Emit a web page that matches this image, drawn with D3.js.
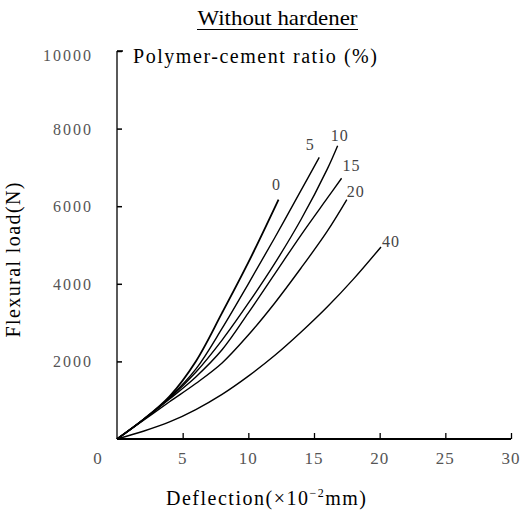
<!DOCTYPE html>
<html><head><meta charset="utf-8">
<script src="https://cdn.jsdelivr.net/npm/d3@7"></script>
<style>
html,body{margin:0;padding:0;background:#fff;}
svg{display:block;font-family:"Liberation Serif","Times New Roman",serif;}
</style></head>
<body>
<svg id="chart" width="530" height="512"></svg>
<script>
// ---- data ----
const seriesNames = ["0", "5", "10", "15", "20", "40"];
const deflection0  = [0, 2, 4, 6, 8, 10, 12.3];
const load0        = [0, 500, 1100, 2000, 3250, 4550, 6170];
const deflection5  = [0, 2, 4, 6, 8, 10, 12, 14, 15.4];
const load5        = [0, 500, 1070, 1800, 2850, 4000, 5180, 6400, 7260];
const deflection10 = [0, 2, 4, 6, 8, 10, 12, 14, 16, 16.8];
const load10       = [0, 500, 1050, 1720, 2550, 3500, 4520, 5650, 6950, 7560];
const deflection15 = [0, 2, 4, 6, 8, 10, 12, 14, 16, 17.1];
const load15       = [0, 495, 1030, 1600, 2300, 3250, 4250, 5250, 6200, 6720];
const deflection20 = [0, 2, 4, 6, 8, 10, 12, 14, 16, 17.5];
const load20       = [0, 480, 960, 1430, 1960, 2680, 3500, 4400, 5350, 6170];
const deflection40 = [0, 2, 4, 6, 8, 10, 12, 14, 16, 18, 20.1];
const load40       = [0, 200, 440, 760, 1150, 1620, 2150, 2750, 3400, 4120, 4950];
const xTicks = [0, 5, 10, 15, 20, 25, 30];
const yTicks = [2000, 4000, 6000, 8000, 10000];
const titleText = "Without hardener";
const legendTitle = "Polymer-cement ratio (%)";
const yAxisTitle = "Flexural load(N)";

const seriesX = [deflection0, deflection5, deflection10, deflection15, deflection20, deflection40];
const seriesY = [load0, load5, load10, load15, load20, load40];

// ---- drawing ----
const svg = d3.select("#chart");
const x = d3.scaleLinear().domain([0, 30]).range([117, 511]);
const y = d3.scaleLinear().domain([0, 10000]).range([439, 51]);

// title
svg.append("text").attr("x", 277.5).attr("y", 25).attr("text-anchor", "middle")
  .attr("font-size", 22).attr("textLength", 160).attr("lengthAdjust", "spacingAndGlyphs")
  .text(titleText);
svg.append("line").attr("x1", 197).attr("x2", 358).attr("y1", 29.5).attr("y2", 29.5)
  .attr("stroke", "#000").attr("stroke-width", 1);

// legend title
svg.append("text").attr("x", 133).attr("y", 63).attr("font-size", 20)
  .attr("textLength", 244).attr("lengthAdjust", "spacing")
  .text(legendTitle);

// y axis
const yAxis = d3.axisRight(y).tickValues(yTicks).tickSize(5).tickFormat("");
const gy = svg.append("g").attr("transform", `translate(${x(0)},0)`).call(yAxis);
gy.select(".domain").remove();
gy.selectAll(".tick line").attr("stroke", "#000").attr("stroke-width", 1.5);
svg.append("line").attr("x1", x(0)).attr("x2", x(0)).attr("y1", y(10000)).attr("y2", y(0))
  .attr("stroke", "#000").attr("stroke-width", 1.3);
// y tick labels
svg.append("g").selectAll("text").data(yTicks).join("text")
  .attr("x", 93).attr("y", d => y(d) + 6 + (d === 10000 ? 4 : 0))
  .attr("text-anchor", "end").attr("font-size", 16).attr("letter-spacing", 2)
  .attr("fill", "#555")
  .text(d => d);

// x axis
const xAxis = d3.axisTop(x).tickValues(xTicks.slice(1)).tickSize(6).tickFormat("");
const gx = svg.append("g").attr("transform", `translate(0,${y(0)})`).call(xAxis);
gx.select(".domain").remove();
gx.selectAll(".tick line").attr("stroke", "#000").attr("stroke-width", 1.3);
svg.append("line").attr("x1", x(0)).attr("x2", x(30)).attr("y1", y(0)).attr("y2", y(0))
  .attr("stroke", "#000").attr("stroke-width", 2.2);
// x tick labels
svg.append("g").selectAll("text").data(xTicks).join("text")
  .attr("x", d => d === 0 ? x(0) - 19 : x(d)).attr("y", 464)
  .attr("text-anchor", "middle").attr("font-size", 17).attr("letter-spacing", 1)
  .attr("fill", "#555")
  .text(d => d);

// axis titles
svg.append("text").attr("x", 266).attr("y", 505).attr("text-anchor", "middle")
  .attr("font-size", 20).attr("textLength", 200).attr("lengthAdjust", "spacing")
  .html('Deflection(\u00d710<tspan dy="-8" font-size="12">\u22122</tspan><tspan dy="8">mm)</tspan>');
svg.append("text").attr("transform", "translate(20,260) rotate(-90)")
  .attr("text-anchor", "middle").attr("font-size", 20)
  .attr("textLength", 155).attr("lengthAdjust", "spacing")
  .text(yAxisTitle);

// curves
const line = d3.line().x(d => x(d[0])).y(d => y(d[1])).curve(d3.curveCatmullRom.alpha(0.5));
seriesNames.forEach((name, i) => {
  const pts = seriesX[i].map((v, j) => [v, seriesY[i][j]]);
  svg.append("path").datum(pts).attr("d", line)
    .attr("fill", "none").attr("stroke", "#000").attr("stroke-width", i === 0 ? 1.8 : 1.4);
});

// curve labels, placed just beyond each curve end
const labelOffsets = [[-2, -15], [-9, -12], [2, -10], [10, -12], [9, -8], [10, -5]];
svg.append("g").selectAll("text").data(seriesNames).join("text")
  .attr("x", (d, i) => x(seriesX[i][seriesX[i].length - 1]) + labelOffsets[i][0])
  .attr("y", (d, i) => y(seriesY[i][seriesY[i].length - 1]) + labelOffsets[i][1] + 5)
  .attr("text-anchor", "middle").attr("font-size", 16).attr("letter-spacing", 1)
  .attr("fill", "#444")
  .text(d => d);

// top bracket of y axis
svg.append("line").attr("x1", x(0)).attr("x2", x(0) + 6).attr("y1", y(10000)).attr("y2", y(10000))
  .attr("stroke", "#000").attr("stroke-width", 1.5);
</script>
</body></html>
